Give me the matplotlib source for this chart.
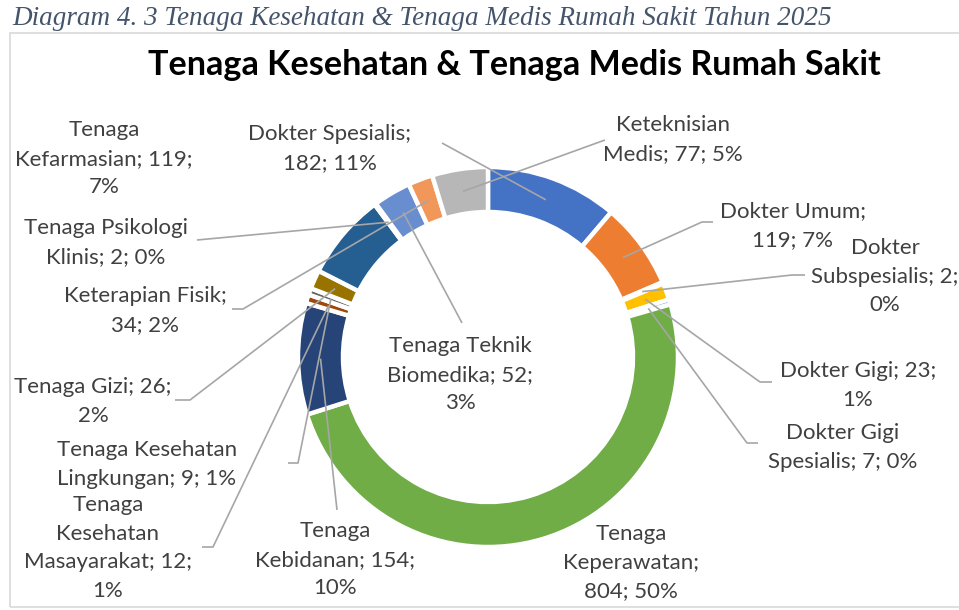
import numpy as np
import matplotlib
matplotlib.use("Agg")
import matplotlib.pyplot as plt
from matplotlib.font_manager import FontProperties
from matplotlib.patches import Rectangle

# ---------------- data ----------------
categories = [
    "Dokter Spesialis", "Dokter Umum", "Dokter Subspesialis", "Dokter Gigi",
    "Dokter Gigi Spesialis", "Tenaga Keperawatan", "Tenaga Kebidanan",
    "Tenaga Kesehatan Masayarakat", "Tenaga Kesehatan Lingkungan", "Tenaga Gizi",
    "Tenaga Kefarmasian", "Tenaga Psikologi Klinis", "Tenaga Teknik Biomedika",
    "Keterapian Fisik", "Keteknisian Medis",
]
values = [182, 119, 2, 23, 7, 804, 154, 12, 9, 26, 119, 2, 52, 34, 77]
pct_labels = [11, 7, 0, 1, 0, 50, 10, 1, 1, 2, 7, 0, 3, 2, 5]
colors = ["#4472C4", "#ED7D31", "#A5A5A5", "#FFC000", "#5B9BD5", "#70AD47",
          "#264478", "#9E480E", "#636363", "#997300", "#255E91", "#43682B",
          "#698ED0", "#F1975A", "#B7B7B7"]

title = "Tenaga Kesehatan & Tenaga Medis Rumah Sakit"
caption = "Diagram 4. 3 Tenaga Kesehatan & Tenaga Medis Rumah Sakit Tahun 2025"

# ---------------- layout (pixel coords, y down) ----------------
W, H = 959, 610
CX, CY_PX, R = 488, 357, 190
RING = 45
PITCH = 28.7
# words per line for each label
line_words = [[2, 2], [2, 2], [1, 2, 1], [3, 1], [2, 3], [1, 1, 2], [1, 2, 1],
              [1, 1, 2, 1], [2, 3], [3, 1], [1, 2, 1], [2, 3], [2, 2, 1], [2, 2], [1, 3]]
# (center x, first baseline y, leader path from label side)
label_layout = [
    (330, 140, [(442, 143)]),
    (793, 217, [(713, 222), (702, 222)]),
    (885, 254, [(805, 275), (792, 275)]),
    (858, 377, [(772, 382), (760, 382)]),
    (843, 439, [(758, 443), (747, 443)]),
    (631, 540, None),
    (335, 537, [(337, 510)]),
    (108, 511, [(202, 547), (213, 547)]),
    (147, 456, [(288, 463), (298, 463)]),
    (93, 393, [(175, 400), (190, 400)]),
    (104, 136, None),
    (106, 234, [(197, 240)]),
    (460, 352, [(462, 323)]),
    (145, 302, [(232, 309), (243, 309)]),
    (673, 131, [(605, 140)]),
]


def Y(py):
    return H - py


fig = plt.figure(figsize=(W / 100, H / 100), dpi=100)
fig.patch.set_facecolor("white")
ax = fig.add_axes([0, 0, 1, 1])

wedges, _ = ax.pie(values, colors=colors, startangle=90, counterclock=False,
                   radius=R, center=(CX, Y(CY_PX)),
                   wedgeprops=dict(width=RING, edgecolor="white", linewidth=3.2))
ax.set_xlim(0, W)
ax.set_ylim(0, H)
ax.axis("off")

renderer = fig.canvas.get_renderer()


def metrics(s, fp):
    return renderer.get_text_width_height_descent(s, fp, ismath=False)


# fonts fitted to reference widths
lab_fam = ["Lato", "DejaVu Sans"]
fp = FontProperties(family=lab_fam, size=12)
lab_size = 12 * 176 / metrics("Kefarmasian; 119;", fp)[0]
fp_lab = FontProperties(family=lab_fam, size=lab_size)
_, lp_h, lp_d = metrics("lp", fp_lab)

fpt = FontProperties(family=lab_fam, weight="bold", size=20)
title_size = 20 * 732 / metrics(title, fpt)[0]

fpc = FontProperties(family=["Liberation Serif", "DejaVu Serif"], style="italic", size=16)
cap_size = 16 * 821 / metrics(caption, fpc)[0]

# build label texts
label_texts = []
for i, (cat, val, pct) in enumerate(zip(categories, values, pct_labels)):
    words = f"{cat}; {val}; {pct}%".split(" ")
    lines, k = [], 0
    for n in line_words[i]:
        lines.append(" ".join(words[k:k + n]))
        k += n
    label_texts.append(lines)

# line spacing so that line pitch equals PITCH (matplotlib adds descent per line)
max_net = lp_h - lp_d
max_d = lp_d
for lines in label_texts:
    for ln in lines:
        _, h, d = metrics(ln, fp_lab)
        max_net = max(max_net, max(h, lp_h) - max(d, lp_d))
        max_d = max(max_d, d)
lab_ls = (PITCH - lp_d) / max_net

# caption and frame
fig.text(12 / W, Y(25) / H, caption, fontsize=cap_size, style="italic",
         family=["Liberation Serif", "DejaVu Serif"], color="#44546A",
         ha="left", va="baseline")
ax.add_patch(Rectangle((10, Y(607)), 980, 574, fill=False, edgecolor="#D9D9D9",
                       lw=1.2, clip_on=False, zorder=0))

# title
ax.text(514, Y(75), title, fontsize=title_size, fontweight="bold", family=lab_fam,
        color="black", ha="center", va="baseline")

# labels and leader lines
for i, lines in enumerate(label_texts):
    txt = "\n".join(lines)
    cx, base, path = label_layout[i]
    _, h0, d0 = metrics(lines[0], fp_lab)
    top = base - (max(h0, lp_h) - max(d0, lp_d))
    ax.text(cx, Y(top), txt, fontsize=lab_size, family=lab_fam, color="#404040",
            ha="center", va="top", multialignment="center", linespacing=lab_ls,
            zorder=5)
    if path is not None:
        w = wedges[i]
        mid = np.deg2rad((w.theta1 + w.theta2) / 2)
        rr = R - RING / 2
        ex, ey = CX + rr * np.cos(mid), Y(CY_PX) + rr * np.sin(mid)
        xs = [p[0] for p in path] + [ex]
        ys = [Y(p[1]) for p in path] + [ey]
        ax.plot(xs, ys, color="#A6A6A6", lw=1.2, zorder=4, solid_capstyle="butt")

fig.savefig("out.png", dpi=100, facecolor="white")
